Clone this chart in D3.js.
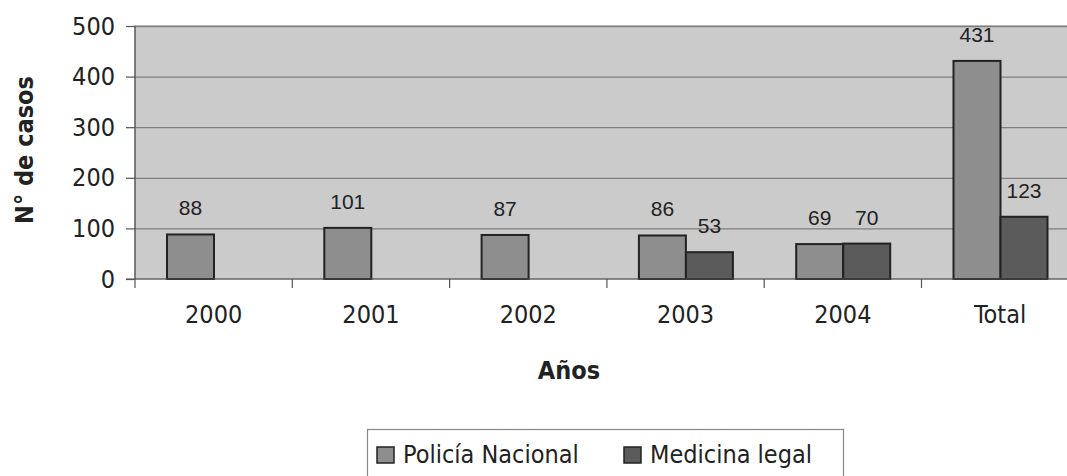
<!DOCTYPE html>
<html>
<head>
<meta charset="utf-8">
<script src="https://cdn.jsdelivr.net/npm/d3@7"></script>
<style>
  body { margin: 0; background: #fff; }
  svg { display: block; }
  .tick text { font-family: "DejaVu Sans Condensed", "Noto Sans", sans-serif; font-size: 25px; fill: #222; }
  .lbl { font-family: "Liberation Sans", Arial, sans-serif; font-size: 21px; fill: #222; }
  .ttl { font-family: "DejaVu Sans Condensed", "Noto Sans", sans-serif; font-size: 25px; font-weight: bold; fill: #222; }
  .leg { font-family: "DejaVu Sans Condensed", "Noto Sans", sans-serif; font-size: 25px; fill: #222; }
</style>
</head>
<body>
<script>
var categories = ["2000", "2001", "2002", "2003", "2004", "Total"];
var series = ["Policía Nacional", "Medicina legal"];
var policia = [88, 101, 87, 86, 69, 431];
var medicina = [null, null, null, 53, 70, 123];
var yTicks = [0, 100, 200, 300, 400, 500];
var colors = ["#8e8e8e", "#5b5b5b"];

var width = 1067,
    height = 476;

var svg = d3.select("body")
    .append("svg")
    .attr("width", width)
    .attr("height", height);

var plotLeft = 135, plotTop = 26, plotBottom = 279, band = 157.3;

var x = d3.scaleBand()
    .domain(categories)
    .range([plotLeft, plotLeft + band * categories.length]);

var x1 = d3.scaleBand()
    .domain(series)
    .range([32, 32 + 94]);

var y = d3.scaleLinear()
    .domain([0, 500])
    .range([plotBottom, plotTop]);

// plot background
svg.append("rect")
    .attr("x", plotLeft)
    .attr("y", plotTop)
    .attr("width", width - plotLeft + 20)
    .attr("height", plotBottom - plotTop)
    .attr("fill", "#cbcbcb")
    .attr("stroke", "#888")
    .attr("stroke-width", 1);

// gridlines
svg.selectAll(".grid")
    .data(yTicks.slice(1))
    .enter()
    .append("line")
    .attr("x1", plotLeft)
    .attr("x2", width)
    .attr("y1", function(d){ return y(d) + 0.5; })
    .attr("y2", function(d){ return y(d) + 0.5; })
    .attr("stroke", "#7f7f7f")
    .attr("stroke-width", 1.3);

var rows = categories.map(function(c, i){
    return [
        {cat: c, s: series[0], v: policia[i], col: colors[0]},
        {cat: c, s: series[1], v: medicina[i], col: colors[1]}
    ];
});

var bars = [];
rows.forEach(function(r){
    r.forEach(function(d){ if (d.v != null) bars.push(d); });
});

svg.selectAll(".bar")
    .data(bars)
    .enter()
    .append("rect")
    .attr("class", "bar")
    .attr("x", function(d){ return x(d.cat) + x1(d.s); })
    .attr("y", function(d){ return y(d.v); })
    .attr("width", x1.bandwidth())
    .attr("height", function(d){ return y(0) - y(d.v); })
    .attr("fill", function(d){ return d.col; })
    .attr("stroke", "#222")
    .attr("stroke-width", 2);

svg.selectAll(".lbl")
    .data(bars)
    .enter()
    .append("text")
    .attr("class", "lbl")
    .attr("x", function(d){ return x(d.cat) + x1(d.s) + x1.bandwidth() / 2; })
    .attr("y", function(d){ return y(d.v) - 19; })
    .attr("text-anchor", "middle")
    .text(function(d){ return d.v; });

// y axis
var yAxis = svg.append("g")
    .attr("transform", "translate(" + plotLeft + ",0)")
    .call(d3.axisLeft(y).tickValues(yTicks).tickSize(9).tickPadding(11));
yAxis.selectAll("path, line").attr("stroke", "#555").attr("stroke-width", 1.2);
yAxis.select(".domain").attr("d", "M0," + plotTop + "V" + plotBottom);

// x axis
var xAxis = svg.append("g")
    .attr("transform", "translate(0," + plotBottom + ")")
    .call(d3.axisBottom(x).tickSize(0).tickPadding(26));
xAxis.select(".domain").attr("d", "M" + (plotLeft - 9) + ",0H" + width).attr("stroke", "#555").attr("stroke-width", 1.2);
xAxis.selectAll(".tick text").attr("dy", "0.71em");

svg.selectAll(".xtick")
    .data(categories)
    .enter()
    .append("line")
    .attr("x1", function(d){ return x(d); })
    .attr("x2", function(d){ return x(d); })
    .attr("y1", plotBottom)
    .attr("y2", plotBottom + 9)
    .attr("stroke", "#555")
    .attr("stroke-width", 1.2);

// titles
svg.append("text")
    .attr("class", "ttl")
    .attr("transform", "translate(33,150) rotate(-90)")
    .attr("text-anchor", "middle")
    .text("N° de casos");

svg.append("text")
    .attr("class", "ttl")
    .attr("x", 569)
    .attr("y", 379)
    .attr("text-anchor", "middle")
    .text("Años");

// legend
svg.append("rect")
    .attr("x", 367.5)
    .attr("y", 429.5)
    .attr("width", 476)
    .attr("height", 60)
    .attr("fill", "#fff")
    .attr("stroke", "#888")
    .attr("stroke-width", 1.2);

var legX = [377, 624];
var leg = svg.selectAll(".legItem")
    .data(series)
    .enter()
    .append("g")
    .attr("transform", function(d, i){ return "translate(" + legX[i] + ",447)"; });

leg.append("rect")
    .attr("width", 17)
    .attr("height", 16)
    .attr("fill", function(d, i){ return colors[i]; })
    .attr("stroke", "#222")
    .attr("stroke-width", 1.5);

leg.append("text")
    .attr("class", "leg")
    .attr("x", 26)
    .attr("y", 16)
    .text(function(d){ return d; });
</script>
</body>
</html>
